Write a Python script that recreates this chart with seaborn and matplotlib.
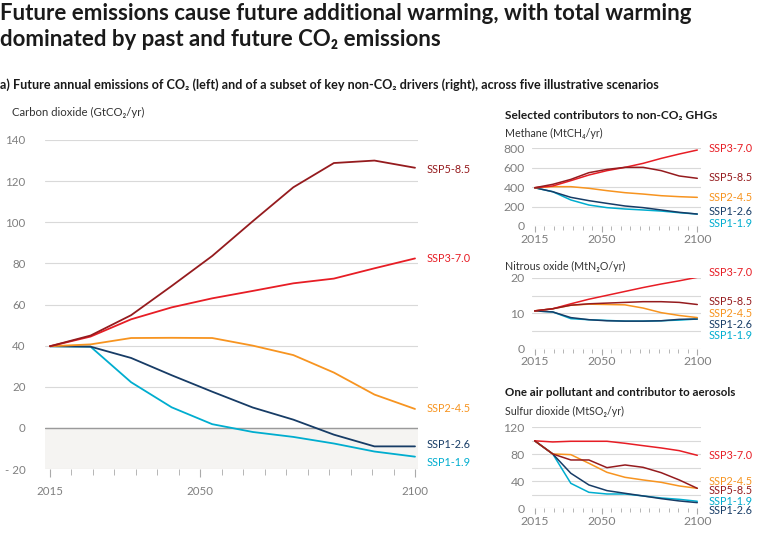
import numpy as np
import pandas as pd
import matplotlib
matplotlib.use("Agg")
import matplotlib.pyplot as plt
import seaborn as sns

# ---------------- data ----------------
years = [2015, 2020, 2030, 2040, 2050, 2060, 2070, 2080, 2090, 2100]
scenarios = ["SSP1-1.9", "SSP1-2.6", "SSP2-4.5", "SSP3-7.0", "SSP5-8.5"]

co2_ssp119 = [39.7, 39.5, 22.2, 10.0, 1.8, -2.0, -4.4, -7.6, -11.5, -14.0]
co2_ssp126 = [39.7, 39.5, 34.0, 25.6, 17.6, 9.9, 4.0, -3.3, -9.0, -9.0]
co2_ssp245 = [39.7, 40.6, 43.7, 43.8, 43.7, 40.0, 35.4, 26.9, 16.2, 9.2]
co2_ssp370 = [39.7, 44.4, 52.8, 58.6, 63.0, 66.6, 70.3, 72.6, 77.6, 82.4]
co2_ssp585 = [39.7, 44.9, 54.8, 69.0, 83.6, 100.5, 117.0, 128.8, 130.0, 126.5]

ch4_ssp119 = [394, 353, 268, 216, 189, 175, 165, 154, 137, 123]
ch4_ssp126 = [394, 353, 295, 261, 233, 206, 189, 165, 141, 123]
ch4_ssp245 = [394, 405, 405, 388, 364, 343, 329, 312, 302, 295]
ch4_ssp370 = [394, 412, 467, 525, 570, 604, 645, 696, 741, 782]
ch4_ssp585 = [394, 429, 480, 549, 583, 604, 604, 570, 515, 491]

n2o_ssp119 = [10.7, 10.4, 8.5, 8.2, 8.0, 7.8, 7.8, 7.9, 8.1, 8.4]
n2o_ssp126 = [10.7, 10.4, 8.8, 8.2, 7.9, 7.8, 7.8, 7.9, 8.3, 8.4]
n2o_ssp245 = [10.7, 11.3, 12.3, 12.6, 12.5, 12.4, 11.5, 10.2, 9.4, 8.8]
n2o_ssp370 = [10.7, 11.3, 12.7, 14.0, 15.1, 16.2, 17.3, 18.3, 19.2, 20.2]
n2o_ssp585 = [10.7, 11.3, 12.3, 12.7, 12.9, 13.1, 13.3, 13.3, 13.1, 12.5]

so2_ssp119 = [100, 80.5, 37.0, 23.7, 21.2, 21.2, 18.3, 15.3, 13.3, 10.4]
so2_ssp126 = [100, 80.5, 51.9, 34.6, 26.2, 22.2, 18.3, 14.3, 10.9, 8.4]
so2_ssp245 = [100, 80.5, 79.5, 66.7, 53.3, 45.9, 42.0, 38.5, 33.1, 29.6]
so2_ssp370 = [100, 98.3, 99.3, 99.3, 99.3, 96.3, 92.8, 89.4, 85.4, 78.5]
so2_ssp585 = [100, 80.5, 71.6, 71.6, 60.2, 64.2, 60.7, 52.8, 42.0, 29.6]

x_tick_labels = [2015, 2050, 2100]

# ---------------- style ----------------
colors = {
    "SSP1-1.9": "#00adcf",
    "SSP1-2.6": "#173c66",
    "SSP2-4.5": "#f79420",
    "SSP3-7.0": "#e71d25",
    "SSP5-8.5": "#951b1e",
}
sns.set_theme(style="white")
FAM = ["Lato", "DejaVu Sans"]
plt.rcParams["font.family"] = FAM

W, H = 778, 558
fig = plt.figure(figsize=(W / 100, H / 100), dpi=100)


def px_axes(left, top, right, bottom):
    return fig.add_axes([left / W, 1 - bottom / H, (right - left) / W, (bottom - top) / H])


def ftext(x, y, s, **kw):
    fig.text(x / W, 1 - y / H, s, va="center", ha="left", **kw)


def long_df(series_list):
    # the reference spaces its data points evenly along the year axis
    xpos = np.linspace(years[0], years[-1], len(years))
    frames = []
    for name, vals in zip(scenarios, series_list):
        frames.append(pd.DataFrame({"x": xpos, "value": vals, "scenario": name, "year": years}))
    return pd.concat(frames, ignore_index=True)


def fmt_tick(t):
    return "- " + str(abs(t)) if t < 0 else str(t)


def style_axis(ax, xlim, ylim, yticks, ygrid, label_size, xpad, tlen, lw_grid=0.8):
    ax.set_xlim(*xlim)
    ax.set_ylim(*ylim)
    for sp in ax.spines.values():
        sp.set_visible(False)
    ax.set_yticks(ygrid, minor=False)
    ax.set_yticklabels([fmt_tick(t) if t in yticks else "" for t in ygrid])
    ax.grid(axis="y", color="#d9d9d9", lw=lw_grid)
    ax.grid(axis="x", visible=False)
    ax.set_xticks(x_tick_labels)
    ax.set_xticklabels([str(t) for t in x_tick_labels])
    ax.set_xticks(np.arange(2015, 2101, 5), minor=True)
    ax.tick_params(axis="x", which="major", length=tlen[0], width=0.8, color="#aaaaaa",
                   labelsize=label_size, labelcolor="#7f7f7f", pad=xpad, bottom=True)
    ax.tick_params(axis="x", which="minor", length=tlen[1], width=0.6, color="#aaaaaa", bottom=True)
    ax.tick_params(axis="y", length=0, labelsize=label_size, labelcolor="#7f7f7f")
    ax.set_xlabel("")
    ax.set_ylabel("")
    if ax.get_legend() is not None:
        ax.get_legend().remove()


def end_labels(ax, df, nudges, size):
    for name in scenarios:
        last = df[df.scenario == name].iloc[-1]
        ax.annotate(name, xy=(1, last.value + nudges.get(name, 0)), xycoords=("axes fraction", "data"),
                    xytext=(6, 0), textcoords="offset points", color=colors[name],
                    fontsize=size, va="center", ha="left", annotation_clip=False)


# ---------------- main CO2 panel ----------------
ax = px_axes(45, 140, 418, 469)
df = long_df([co2_ssp119, co2_ssp126, co2_ssp245, co2_ssp370, co2_ssp585])
ax.axhspan(-20, 0, color="#f5f4f2", lw=0, zorder=0)
sns.lineplot(data=df, x="x", y="value", hue="scenario", palette=colors, ax=ax,
             linewidth=1.3, legend=False, zorder=3)
style_axis(ax, (2013.84, 2100.70), (-20, 140), list(range(-20, 141, 20)), list(range(-20, 141, 20)),
           8.3, 6, (6, 4))
ax.axhline(0, color="#9a9a9a", lw=1, zorder=2)
ax.tick_params(axis="y", pad=14)
end_labels(ax, df, {"SSP5-8.5": -1.0, "SSP1-2.6": 0.8, "SSP1-1.9": -2.8, "SSP2-4.5": 0.2}, 7.8)

# ---------------- small panels ----------------
sx = (2013.43, 2101.78)
small_ticks = (4, 3)
ax1 = px_axes(531.7, 148.3, 700.7, 226)
df1 = long_df([ch4_ssp119, ch4_ssp126, ch4_ssp245, ch4_ssp370, ch4_ssp585])
sns.lineplot(data=df1, x="x", y="value", hue="scenario", palette=colors, ax=ax1,
             linewidth=1.1, legend=False, zorder=3)
style_axis(ax1, sx, (0, 800), [0, 200, 400, 600, 800], [0, 200, 400, 600, 800], 8.8, 1.5, small_ticks)
ax1.tick_params(axis="y", pad=5)
end_labels(ax1, df1, {"SSP3-7.0": 15, "SSP5-8.5": 5, "SSP2-4.5": -4, "SSP1-2.6": 25, "SSP1-1.9": -102}, 7.8)

ax2 = px_axes(531.7, 278, 700.7, 348.7)
df2 = long_df([n2o_ssp119, n2o_ssp126, n2o_ssp245, n2o_ssp370, n2o_ssp585])
sns.lineplot(data=df2, x="x", y="value", hue="scenario", palette=colors, ax=ax2,
             linewidth=1.1, legend=False, zorder=3)
style_axis(ax2, sx, (0, 20), [0, 10, 20], [0, 5, 10, 15, 20], 8.8, 1.5, small_ticks)
ax2.tick_params(axis="y", pad=5)
end_labels(ax2, df2, {"SSP3-7.0": 1.3, "SSP5-8.5": 0.8, "SSP2-4.5": 1.05, "SSP1-2.6": -1.6, "SSP1-1.9": -4.55}, 7.8)

ax3 = px_axes(531.7, 427.3, 700.7, 508.3)
df3 = long_df([so2_ssp119, so2_ssp126, so2_ssp245, so2_ssp370, so2_ssp585])
sns.lineplot(data=df3, x="x", y="value", hue="scenario", palette=colors, ax=ax3,
             linewidth=1.1, legend=False, zorder=3)
style_axis(ax3, sx, (0, 120), [0, 40, 80, 120], [0, 20, 40, 60, 80, 100, 120], 8.8, 1.5, small_ticks)
ax3.tick_params(axis="y", pad=5)
end_labels(ax3, df3, {"SSP3-7.0": -0.6, "SSP2-4.5": 10.8, "SSP5-8.5": -3.5, "SSP1-1.9": 0.4, "SSP1-2.6": -12.4}, 7.8)

# ---------------- texts ----------------
dark = "#1a1a1a"
ftext(0, 14, "Future emissions cause future additional warming, with total warming",
      fontsize=16, fontweight="bold", color=dark, family=FAM)
ftext(0, 40, "dominated by past and future CO\u2082 emissions",
      fontsize=16, fontweight="bold", color=dark, family=FAM)
ftext(0, 85, "a) Future annual emissions of CO\u2082 (left) and of a subset of key non-CO\u2082 drivers (right), across five illustrative scenarios",
      fontsize=9.1, fontweight="bold", color=dark, family=FAM)
ftext(12, 112, "Carbon dioxide (GtCO\u2082/yr)", fontsize=8.2, color="#333333", family=FAM)
ftext(505, 115, "Selected contributors to non-CO\u2082 GHGs", fontsize=8.6, fontweight="bold", color=dark, family=FAM)
ftext(505, 133, "Methane (MtCH\u2084/yr)", fontsize=7.7, color="#333333", family=FAM)
ftext(505, 266, "Nitrous oxide (MtN\u2082O/yr)", fontsize=7.7, color="#333333", family=FAM)
ftext(505, 393, "One air pollutant and contributor to aerosols", fontsize=8.3, fontweight="bold", color=dark, family=FAM)
ftext(505, 411, "Sulfur dioxide (MtSO\u2082/yr)", fontsize=7.7, color="#333333", family=FAM)

fig.savefig("out.png", dpi=100, facecolor="white")
